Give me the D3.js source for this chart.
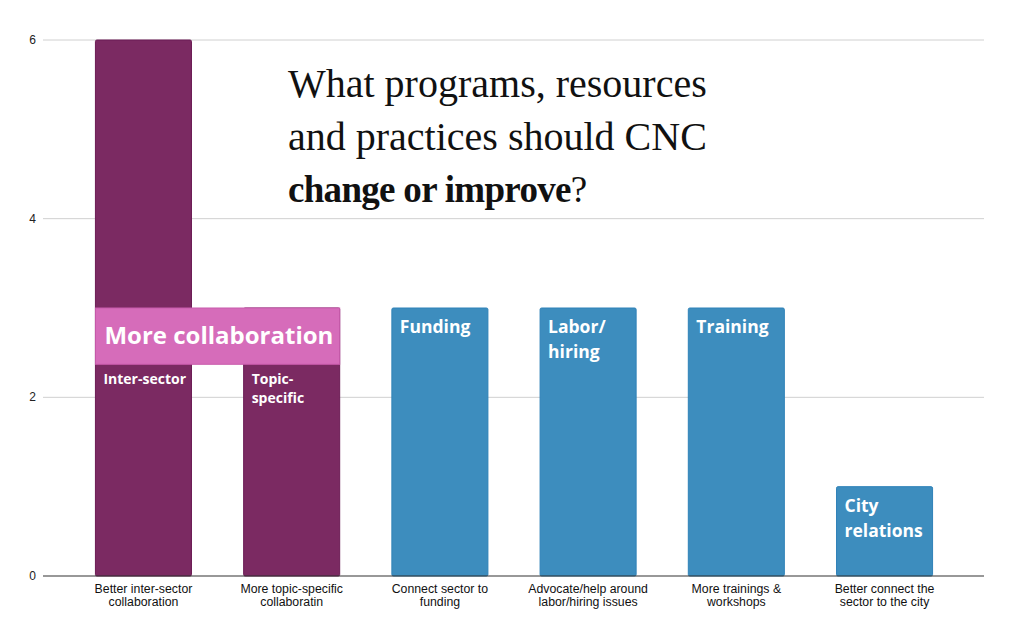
<!DOCTYPE html>
<html>
<head>
<meta charset="utf-8">
<script src="https://cdn.jsdelivr.net/npm/d3@7"></script>
<style>
  body { margin: 0; background: #fff; }
  svg { display: block; }
</style>
</head>
<body>
<svg id="chart" width="1024" height="627"></svg>
<script>
// chart data
var categories = [
    ["Better inter-sector", "collaboration"],
    ["More topic-specific", "collaboratin"],
    ["Connect sector to", "funding"],
    ["Advocate/help around", "labor/hiring issues"],
    ["More trainings &", "workshops"],
    ["Better connect the", "sector to the city"]
];
var values = [6, 3, 3, 3, 3, 1];
var groups = ["collab", "collab", "other", "other", "other", "other"];
var barLabels = [["Inter-sector"], ["Topic-", "specific"], ["Funding"], ["Labor/", "hiring"], ["Training"], ["City", "relations"]];
var yTicks = [0, 2, 4, 6];
var titleLines = ["What programs, resources", "and practices should CNC"];
var groupLabel = "More collaboration";
var groupTop = 3, groupBottom = 2.37;

var svg = d3.select("#chart");
var margin = {left: 44, right: 40, top: 40, bottom: 51};
var W = 1024, H = 627;

var x = d3.scaleBand()
    .domain(d3.range(categories.length))
    .range([margin.left, W - margin.right])
    .paddingInner(0.352)
    .paddingOuter(0.347);

var y = d3.scaleLinear()
    .domain([0, 6])
    .range([H - margin.bottom, margin.top]);

// gridlines
svg.append("g").selectAll("line")
    .data(yTicks.filter(function (d) { return d > 0; }))
    .enter().append("line")
    .attr("x1", 43).attr("x2", W - margin.right)
    .attr("y1", function (d) { return y(d); })
    .attr("y2", function (d) { return y(d); })
    .attr("stroke", "#d0d0d0").attr("stroke-width", 1);

// y tick labels
svg.append("g").selectAll("text")
    .data(yTicks)
    .enter().append("text")
    .attr("x", 36).attr("y", function (d) { return y(d) + 4; })
    .attr("text-anchor", "end")
    .attr("font-family", "Liberation Sans, Arial, sans-serif")
    .attr("font-size", "12px")
    .attr("fill", "#222")
    .text(function (d) { return d; });

// bars
var colors = {collab: "#7b2a62", other: "#3d8dbe"};
var strokes = {collab: "#6a1b54", other: "#2f82b8"};
svg.append("g").selectAll("rect")
    .data(values)
    .enter().append("rect")
    .attr("x", function (d, i) { return x(i); })
    .attr("y", function (d) { return y(d); })
    .attr("width", x.bandwidth())
    .attr("height", function (d) { return y(0) - y(d); })
    .attr("rx", 1.5)
    .attr("fill", function (d, i) { return colors[groups[i]]; })
    .attr("stroke", function (d, i) { return strokes[groups[i]]; })
    .attr("stroke-width", 1);

// baseline
svg.append("line")
    .attr("x1", 43).attr("x2", W - margin.right)
    .attr("y1", y(0)).attr("y2", y(0))
    .attr("stroke", "#333").attr("stroke-width", 1.2);

// x labels
var xl = svg.append("g").selectAll("text")
    .data(categories)
    .enter().append("text")
    .attr("text-anchor", "middle")
    .attr("font-family", "Liberation Sans, Arial, sans-serif")
    .attr("font-size", "12.3px")
    .attr("fill", "#111")
    .attr("transform", function (d, i) {
        return "translate(" + (x(i) + x.bandwidth() / 2) + "," + (y(0) + 17) + ")";
    });
xl.selectAll("tspan")
    .data(function (d) { return d; })
    .enter().append("tspan")
    .attr("x", 0)
    .attr("dy", function (d, j) { return j ? 13 : 0; })
    .text(function (d) { return d; });

// group overlay box for collaboration bars
var collabIdx = groups.map(function (g, i) { return g === "collab" ? i : -1; })
    .filter(function (i) { return i >= 0; });
var gx0 = x(collabIdx[0]);
var gx1 = x(collabIdx[collabIdx.length - 1]) + x.bandwidth();
svg.append("rect")
    .attr("x", gx0).attr("y", y(groupTop))
    .attr("width", gx1 - gx0).attr("height", y(groupBottom) - y(groupTop))
    .attr("fill", "#d66cba")
    .attr("stroke", "#c85aab").attr("stroke-width", 1);
svg.append("text")
    .attr("x", gx0 + 9).attr("y", y(groupTop) + 36)
    .attr("font-family", "Open Sans, sans-serif")
    .attr("font-weight", "bold")
    .attr("font-size", "24px")
    .attr("fill", "#fff")
    .text(groupLabel);

// labels inside bars
var inner = svg.append("g").selectAll("text")
    .data(barLabels)
    .enter().append("text")
    .attr("font-family", "Open Sans, sans-serif")
    .attr("font-weight", "bold")
    .attr("fill", "#fff")
    .attr("font-size", function (d, i) { return groups[i] === "collab" ? "14px" : "17.5px"; })
    .attr("transform", function (d, i) {
        var top = groups[i] === "collab" ? y(groupBottom) + 20 : y(values[i]) + 25;
        return "translate(" + (x(i) + 8) + "," + top + ")";
    });
inner.selectAll("tspan")
    .data(function (d, i) { return d.map(function (t) { return {t: t, g: groups[i]}; }); })
    .enter().append("tspan")
    .attr("x", 0)
    .attr("dy", function (d, j) { return j ? (d.g === "collab" ? 19 : 25) : 0; })
    .text(function (d) { return d.t; });

// title
var title = svg.append("text")
    .attr("x", 288).attr("y", 97)
    .attr("font-family", "Liberation Serif, Times New Roman, serif")
    .attr("font-size", "40px")
    .attr("fill", "#111");
titleLines.forEach(function (t, i) {
    title.append("tspan").attr("x", 288).attr("dy", i ? 52.5 : 0).text(t);
});
var last = title.append("tspan").attr("x", 288).attr("dy", 52.5);
last.append("tspan").attr("font-weight", "bold").attr("font-size", "37px")
    .attr("letter-spacing", "-0.7px").text("change or improve");
last.append("tspan").attr("font-size", "37px").text("?");
</script>
</body>
</html>
